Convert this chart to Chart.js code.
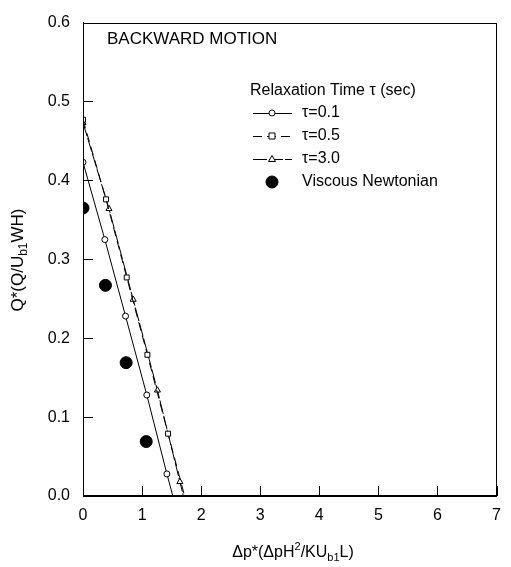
<!DOCTYPE html>
<html>
<head>
<meta charset="utf-8">
<script src="https://cdn.jsdelivr.net/npm/chart.js@4/dist/chart.umd.min.js"></script>
<style>
  html, body { margin: 0; padding: 0; background: #fff; }
</style>
</head>
<body>
<canvas id="grafico" width="511" height="567"></canvas>
<script>
// Relaxation time τ = 0.1 s
const xTau01 = [0, 0.37, 0.72, 1.08, 1.42, 1.52];
const yTau01 = [0.423, 0.325, 0.228, 0.128, 0.028, 0];
// τ = 0.5 s
const xTau05 = [0, 0.39, 0.74, 1.09, 1.44, 1.72];
const yTau05 = [0.477, 0.376, 0.277, 0.179, 0.079, 0];
// τ = 3.0 s
const xTau30 = [0, 0.44, 0.85, 1.26, 1.64, 1.70];
const yTau30 = [0.473, 0.364, 0.249, 0.134, 0.018, 0];
// viscous newtonian fluid
const xNewton = [0, 0.38, 0.73, 1.07];
const yNewton = [0.365, 0.267, 0.169, 0.069];

const xTicks = [0, 1, 2, 3, 4, 5, 6, 7];
const yTicks = [0, 0.1, 0.2, 0.3, 0.4, 0.5, 0.6];

const FUENTE = '"Liberation Sans", Arial, sans-serif';

function puntos(xs, ys) {
    return xs.map((v, i) => ({ x: v, y: ys[i] }));
}

// the last point of each line just marks where it hits the axis
function radios(n, r) {
    return Array.from({ length: n }, (_, i) => (i === n - 1 ? 0 : r));
}

function marcador(ctx, estilo, x, y) {
    ctx.save();
    ctx.lineWidth = 1;
    ctx.strokeStyle = '#000';
    ctx.fillStyle = estilo === 'dot' ? '#000' : '#fff';
    ctx.setLineDash([]);
    ctx.beginPath();
    if (estilo === 'circle') {
        ctx.arc(x, y, 3, 0, Math.PI * 2);
    } else if (estilo === 'rect') {
        ctx.rect(x - 3, y - 3, 6, 6);
    } else if (estilo === 'triangle') {
        ctx.moveTo(x, y - 3.5);
        ctx.lineTo(x + 3.5, y + 2.5);
        ctx.lineTo(x - 3.5, y + 2.5);
        ctx.closePath();
    } else {
        ctx.arc(x, y, 6, 0, Math.PI * 2);
    }
    ctx.fill();
    ctx.stroke();
    ctx.restore();
}

// text with sub/superscript pieces, centred on (x, y)
function textoCompuesto(ctx, partes, x, y, size) {
    const chica = Math.round(size * 0.68);
    let total = 0;
    partes.forEach(p => {
        ctx.font = (p.sub || p.sup ? chica : size) + 'px ' + FUENTE;
        p.w = ctx.measureText(p.t).width;
        total += p.w;
    });
    let cx = x - total / 2;
    ctx.textBaseline = 'middle';
    ctx.textAlign = 'left';
    partes.forEach(p => {
        ctx.font = (p.sub || p.sup ? chica : size) + 'px ' + FUENTE;
        let dy = 0;
        if (p.sub) dy = size * 0.32;
        if (p.sup) dy = -size * 0.38;
        ctx.fillText(p.t, cx, y + dy);
        cx += p.w;
    });
}

const leyenda = [
    { texto: 'τ=0.1', estilo: 'circle', dash: [] },
    { texto: 'τ=0.5', estilo: 'rect', dash: [9, 5] },
    { texto: 'τ=3.0', estilo: 'triangle', dash: [14, 2] },
    { texto: 'Viscous Newtonian', estilo: 'dot', dash: null }
];

const decoraciones = {
    id: 'decoraciones',
    afterDatasetsDraw(chart) {
        const { ctx, chartArea: a, scales: { x, y } } = chart;
        ctx.save();
        ctx.strokeStyle = '#000';
        ctx.fillStyle = '#000';
        ctx.lineWidth = 1;

        // frame
        ctx.strokeRect(Math.round(a.left) + 0.5, Math.round(a.top) + 0.5,
            Math.round(a.width) - 1, Math.round(a.height) - 1);

        // inward ticks
        ctx.beginPath();
        xTicks.forEach(v => {
            const px = Math.round(x.getPixelForValue(v)) + 0.5;
            ctx.moveTo(px, a.bottom);
            ctx.lineTo(px, a.bottom - 10);
        });
        yTicks.forEach(v => {
            const py = Math.round(y.getPixelForValue(v)) + 0.5;
            ctx.moveTo(a.left, py);
            ctx.lineTo(a.left + 10, py);
        });
        ctx.stroke();

        // panel label
        ctx.font = '17px ' + FUENTE;
        ctx.textAlign = 'left';
        ctx.textBaseline = 'middle';
        ctx.fillText('BACKWARD MOTION', 107, 39);

        // legend
        ctx.font = '16px ' + FUENTE;
        ctx.fillText('Relaxation Time τ (sec)', 250, 91);
        leyenda.forEach((item, i) => {
            const ly = 113 + i * 23;
            if (item.dash) {
                ctx.save();
                ctx.setLineDash(item.dash);
                ctx.beginPath();
                ctx.moveTo(253, ly + 0.5);
                ctx.lineTo(292, ly + 0.5);
                ctx.stroke();
                ctx.restore();
            }
            marcador(ctx, item.estilo, 272, ly);
            ctx.fillStyle = '#000';
            ctx.font = '16px ' + FUENTE;
            ctx.fillText(item.texto, 302, ly);
        });

        // axis titles
        textoCompuesto(ctx, [
            { t: 'Δp*(ΔpH' }, { t: '2', sup: true }, { t: '/KU' },
            { t: 'b1', sub: true }, { t: 'L)' }
        ], 293, 553, 16);

        ctx.save();
        ctx.translate(18, 260);
        ctx.rotate(-Math.PI / 2);
        textoCompuesto(ctx, [
            { t: 'Q*(Q/U' }, { t: 'b1', sub: true }, { t: 'WH)' }
        ], 0, 0, 17);
        ctx.restore();

        ctx.restore();
    }
};

const serie = (datos, estilo, dash, r) => ({
    data: datos,
    showLine: true,
    borderColor: '#000',
    borderWidth: 1,
    borderDash: dash,
    backgroundColor: '#fff',
    pointStyle: estilo,
    pointRadius: radios(datos.length, r),
    pointBorderColor: '#000',
    pointBackgroundColor: '#fff',
    pointBorderWidth: 1
});

new Chart(document.getElementById('grafico'), {
    type: 'scatter',
    data: {
        datasets: [
            serie(puntos(xTau01, yTau01), 'circle', [], 3),
            serie(puntos(xTau05, yTau05), 'rect', [9, 5], 3.5),
            serie(puntos(xTau30, yTau30), 'triangle', [14, 2], 3.5),
            {
                data: puntos(xNewton, yNewton),
                showLine: false,
                pointStyle: 'circle',
                pointRadius: 6,
                backgroundColor: '#000',
                borderColor: '#000'
            }
        ]
    },
    options: {
        responsive: false,
        animation: false,
        layout: { padding: { top: 15, right: 8, left: 0, bottom: 0 } },
        plugins: {
            legend: { display: false },
            tooltip: { enabled: false }
        },
        scales: {
            x: {
                type: 'linear',
                min: 0,
                max: 7,
                afterFit: s => { s.height = 71; },
                afterBuildTicks: s => { s.ticks = xTicks.map(v => ({ value: v })); },
                ticks: {
                    color: '#000',
                    font: { family: FUENTE, size: 16 },
                    padding: 10,
                    maxRotation: 0
                },
                grid: { drawOnChartArea: false, drawTicks: false },
                border: { color: '#000', width: 1 }
            },
            y: {
                min: 0,
                max: 0.6,
                afterFit: s => { s.width = 83; },
                afterBuildTicks: s => { s.ticks = yTicks.map(v => ({ value: v })); },
                ticks: {
                    color: '#000',
                    font: { family: FUENTE, size: 16 },
                    padding: 13,
                    callback: v => v.toFixed(1)
                },
                grid: { drawOnChartArea: false, drawTicks: false },
                border: { color: '#000', width: 1 }
            }
        }
    },
    plugins: [decoraciones]
});
</script>
</body>
</html>
